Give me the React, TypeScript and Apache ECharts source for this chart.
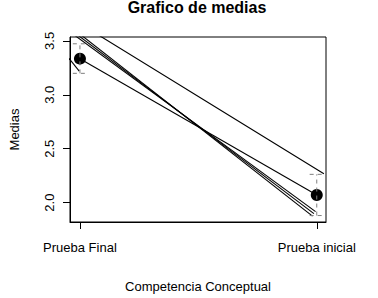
import React, { useEffect, useRef } from "react";
import * as echarts from "echarts";

// Categories placed at positions 1 and 2 on the x axis
const categories = ["Prueba Final", "Prueba inicial"];
const categoryPos = [1, 2];
// Group means and confidence limits
const means = [3.335, 2.071];
const ciLower = [3.199, 1.88];
const ciUpper = [3.473, 2.262];
// Y tick values
const yTicks = [2.0, 2.5, 3.0, 3.5];
// Straight segments drawn in the plot (x, y pairs in data units)
const meanLine = [[1, 3.335], [2, 2.071]];
const lineB = [[1.0, 3.66], [2.03, 2.268]];
const lineC = [[1.0, 3.563], [1.982, 1.874]];
const lineD = [[0.97, 3.564], [1.995, 1.916]];
const lineE = [[0.98, 3.572], [1.988, 1.898]];
const lineF = [[0.94, 3.375], [0.997, 3.22]];

const FONT = "'Liberation Sans', Arial, Helvetica, sans-serif";
const HAT = 0.03;

export default function App() {
  const ref = useRef<HTMLDivElement>(null);
  useEffect(() => {
    if (!ref.current) return;
    const chart = echarts.init(ref.current, undefined, { renderer: "svg" });

    const segs = [meanLine, lineB, lineC, lineD, lineE, lineF].map((d) => ({
      type: "line",
      data: d,
      symbol: "none",
      clip: true,
      lineStyle: { color: "#000", width: 1.1 },
      z: 2,
    }));

    const errBars: any[] = [];
    categoryPos.forEach((x, i) => {
      const style = { color: "#7f7f7f", width: 1, type: [4, 4] };
      errBars.push({
        type: "line",
        data: [[x, ciLower[i]], [x, ciUpper[i]]],
        symbol: "none",
        lineStyle: style,
        z: 4,
      });
      errBars.push({
        type: "line",
        data: [[x - HAT, ciUpper[i]], [x + HAT, ciUpper[i]]],
        symbol: "none",
        lineStyle: style,
        z: 4,
      });
      errBars.push({
        type: "line",
        data: [[x - HAT, ciLower[i]], [x + HAT, ciLower[i]]],
        symbol: "none",
        lineStyle: style,
        z: 4,
      });
    });

    chart.setOption({
      animation: false,
      backgroundColor: "#fff",
      title: {
        text: "Grafico de medias",
        left: 197,
        top: -1,
        padding: 0,
        textAlign: "center",
        textStyle: { fontFamily: FONT, fontSize: 16, fontWeight: "bold", color: "#000" },
      },
      grid: {
        left: 68,
        right: 52,
        top: 37,
        bottom: 71,
        show: true,
        borderColor: "#000",
        borderWidth: 1,
        backgroundColor: "transparent",
      },
      xAxis: {
        type: "value",
        min: 0.958,
        max: 2.039,
        name: "Competencia Conceptual",
        nameLocation: "middle",
        nameGap: 58,
        nameTextStyle: { fontFamily: FONT, fontSize: 13, color: "#000" },
        axisLine: { show: true, onZero: false, lineStyle: { color: "#000" } },
        axisTick: { show: true, length: 7, customValues: categoryPos, lineStyle: { color: "#000" } },
        axisLabel: {
          customValues: categoryPos,
          margin: 19,
          fontFamily: FONT,
          fontSize: 13,
          color: "#000",
          formatter: (v: number) => categories[categoryPos.indexOf(Math.round(v))] ?? "",
        },
        splitLine: { show: false },
      },
      yAxis: {
        type: "value",
        min: 1.82,
        max: 3.536,
        name: "Medias",
        nameLocation: "middle",
        nameGap: 49,
        nameTextStyle: { fontFamily: FONT, fontSize: 13, color: "#000" },
        axisLine: { show: true, onZero: false, lineStyle: { color: "#000" } },
        axisTick: { show: true, length: 7, customValues: yTicks, lineStyle: { color: "#000" } },
        axisLabel: {
          customValues: yTicks,
          rotate: 90,
          margin: 14,
          fontFamily: FONT,
          fontSize: 13,
          color: "#000",
          formatter: (v: number) => v.toFixed(1),
        },
        splitLine: { show: false },
      },
      series: [
        ...segs,
        {
          type: "scatter",
          data: categoryPos.map((x, i) => [x, means[i]]),
          symbol: "circle",
          symbolSize: 12,
          itemStyle: { color: "#000", opacity: 1 },
          z: 3,
        },
        ...errBars,
      ],
    });
    return () => chart.dispose();
  }, []);
  return <div ref={ref} style={{ width: 378, height: 298, position: "absolute", left: 0, top: 0 }} />;
}
